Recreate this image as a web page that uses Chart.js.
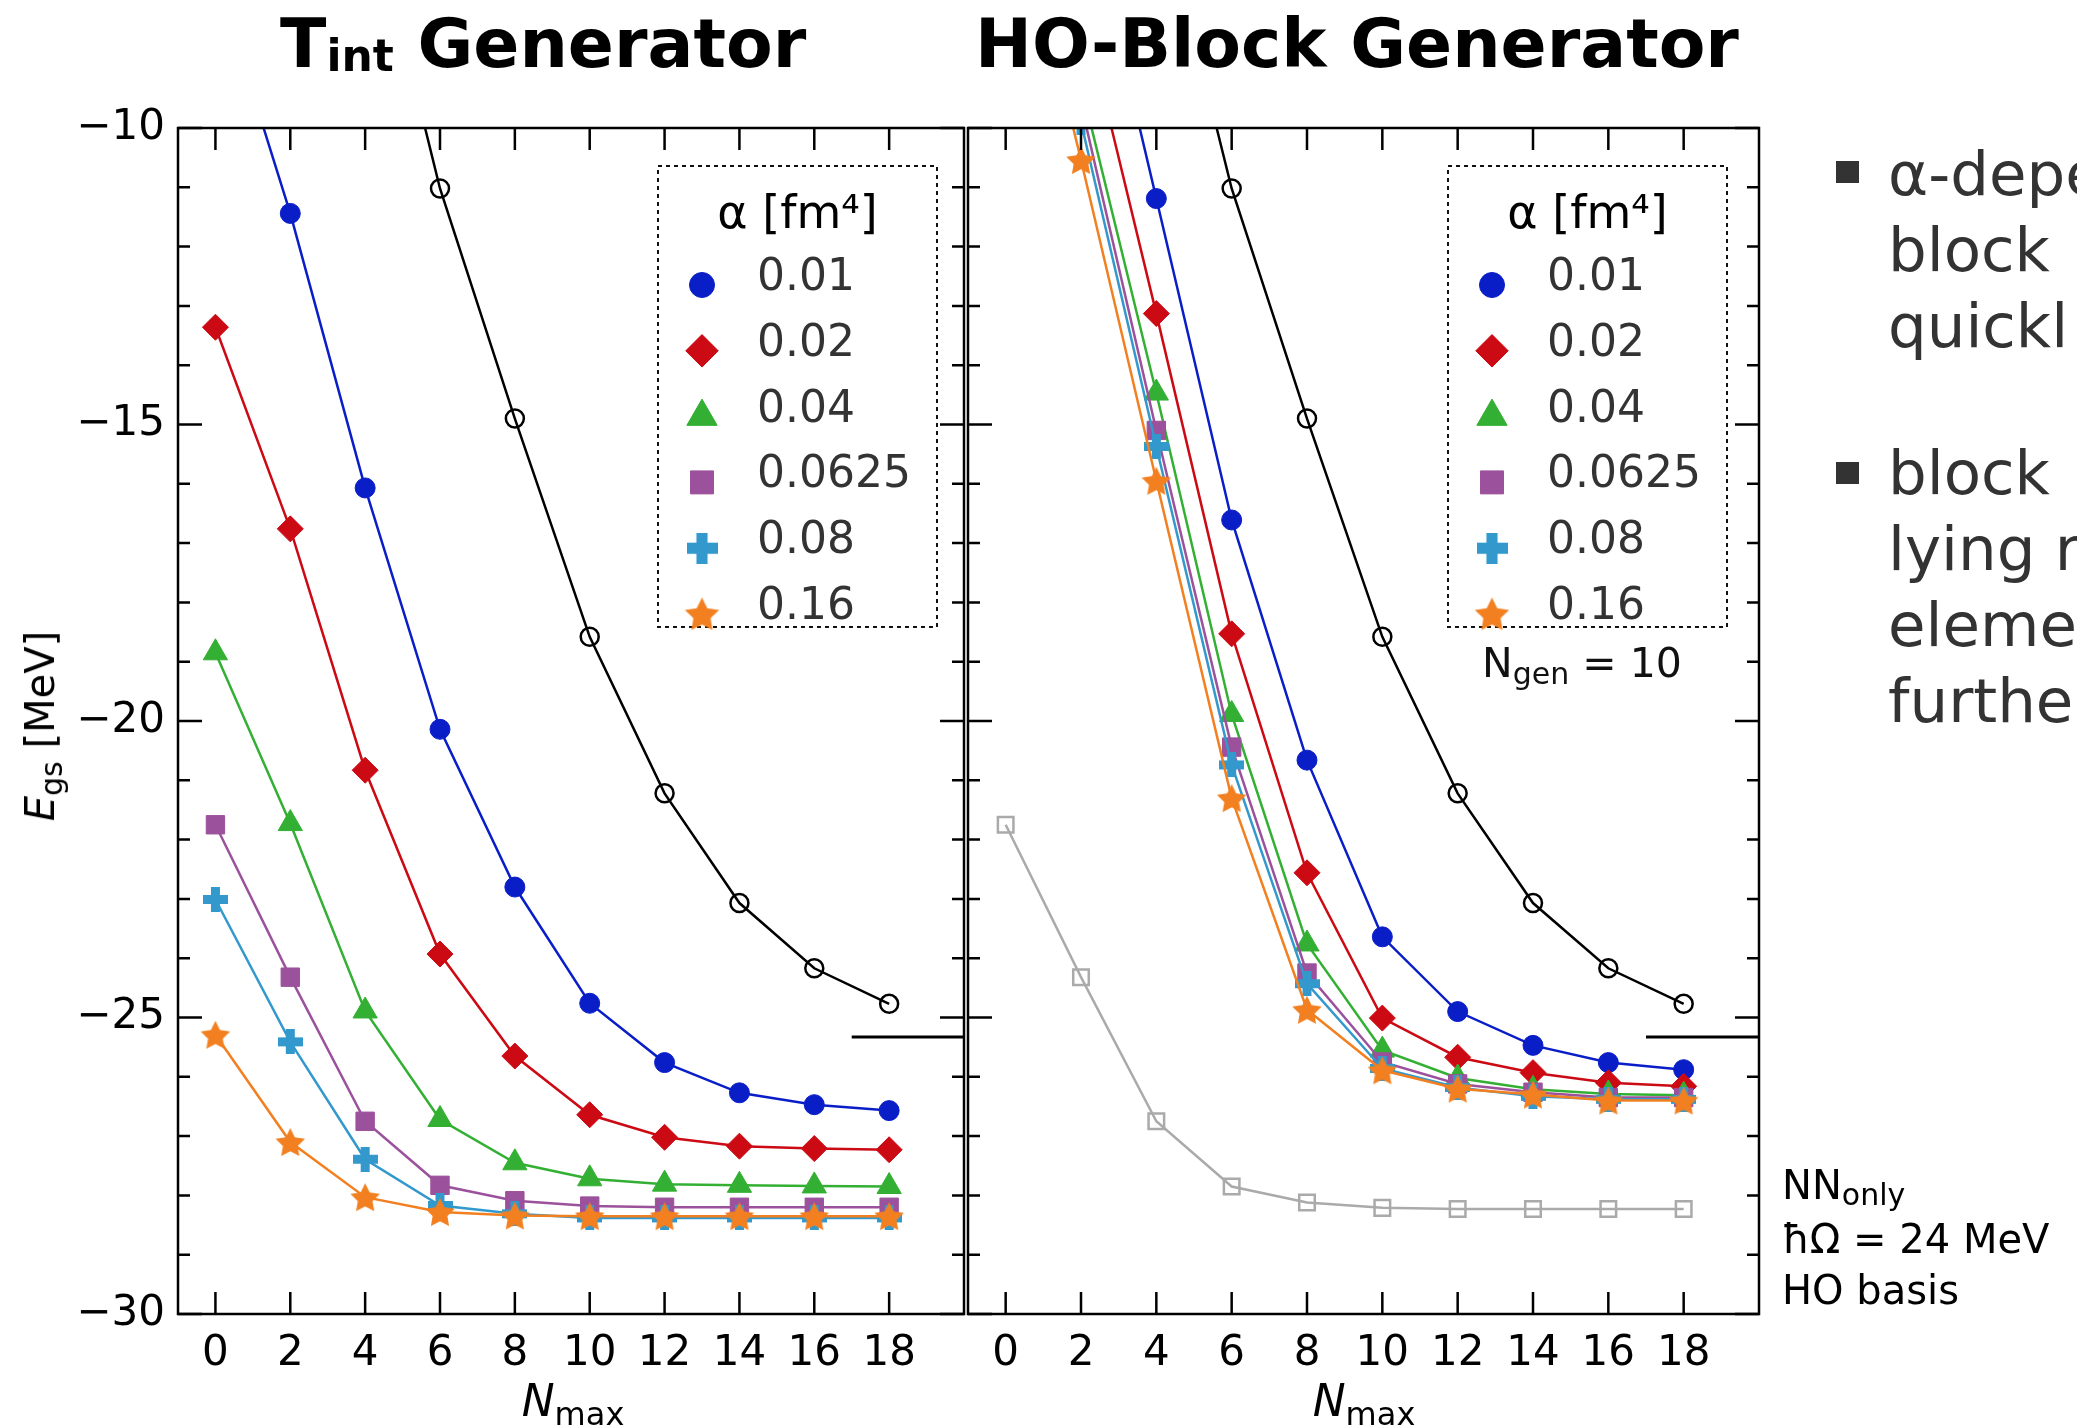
<!DOCTYPE html>
<html>
<head>
<meta charset="utf-8">
<script src="https://cdn.jsdelivr.net/npm/chart.js@4.4.1/dist/chart.umd.min.js"></script>
<style>
body { margin: 0; width: 2077px; height: 1427px; overflow: hidden; background: #fff; position: relative; font-family: 'DejaVu Sans', sans-serif; color: #000; }
canvas { position: absolute; top: 0; }
.abs { position: absolute; white-space: nowrap; }
.title { font-size: 68px; font-weight: bold; line-height: 68px; }
.tsub { font-size: 44px; position: relative; top: 4px; }
.xlab { font-size: 44px; line-height: 44px; transform: translateX(-50%); }
.xlab span { font-size: 32px; position: relative; top: 9px; }
.slide { font-size: 61px; line-height: 76px; color: #333; }
.bullet { position: absolute; width: 23px; height: 22px; background: #333; }
</style>
</head>
<body>
<canvas id="leftChart" width="980" height="1427" style="left:0"></canvas>
<canvas id="rightChart" width="860" height="1427" style="left:930px"></canvas>

<div class="abs title" style="left:280px; top:10px;">T<span class="tsub">int</span> Generator</div>
<div class="abs title" style="left:975px; top:10px;">HO-Block Generator</div>

<div class="abs" style="left:42px; top:726px; transform: translate(-50%,-50%) rotate(-90deg); font-size:40px; line-height:40px;"><i>E</i><span style="font-size:30px; position:relative; top:8px;">gs</span> [MeV]</div>
<div class="abs xlab" style="left:573px; top:1379px;"><i>N</i><span>max</span></div>
<div class="abs xlab" style="left:1364px; top:1379px;"><i>N</i><span>max</span></div>

<div class="abs" style="left:1582px; top:643px; transform: translateX(-50%); font-size:41px; line-height:41px; color:#111;">N<span style="font-size:30px; position:relative; top:7px;">gen</span> = 10</div>

<div class="abs" style="left:1782px; top:1160px; font-size:40px; line-height:51px;">NN<span style="font-size:30px; position:relative; top:6px;">only</span><br>ħΩ = 24 MeV<br>HO basis</div>

<div class="bullet" style="left:1836px; top:161px;"></div>
<div class="abs slide" style="left:1888px; top:136px;">α-depe<br>block<br>quickl</div>
<div class="bullet" style="left:1836px; top:462px;"></div>
<div class="abs slide" style="left:1888px; top:435px;">block<br>lying r<br>eleme<br>furthe</div>

<script>
const nmax = [0, 2, 4, 6, 8, 10, 12, 14, 16, 18];
const alphaLabels = ['0.01', '0.02', '0.04', '0.0625', '0.08', '0.16'];
const yTicks = [-30, -25, -20, -15, -10];

// bare interaction, open black circles (same in both panels)
const bareE = [null, null, -5.9, -11.02, -14.90, -18.58, -21.22, -23.07, -24.17, -24.77];

// Tint generator
const tint001 = [-7.4, -11.44, -16.07, -20.14, -22.80, -24.76, -25.76, -26.27, -26.47, -26.57];
const tint002 = [-13.36, -16.76, -20.83, -23.93, -25.65, -26.64, -27.02, -27.17, -27.21, -27.23];
const tint004 = [-18.85, -21.73, -24.89, -26.72, -27.45, -27.72, -27.81, -27.83, -27.84, -27.85];
const tint0625 = [-21.75, -24.32, -26.75, -27.83, -28.09, -28.18, -28.20, -28.20, -28.20, -28.20];
const tint008 = [-23.01, -25.41, -27.39, -28.17, -28.31, -28.38, -28.38, -28.38, -28.38, -28.38];
const tint016 = [-25.29, -27.10, -28.03, -28.28, -28.34, -28.35, -28.35, -28.35, -28.35, -28.35];

// HO-block generator
const ho001 = [null, -5.8, -11.19, -16.61, -20.66, -23.64, -24.90, -25.47, -25.76, -25.88];
const ho002 = [null, -7.87, -13.13, -18.53, -22.56, -25.01, -25.67, -25.93, -26.10, -26.16];
const ho004 = [null, -9.27, -14.47, -19.89, -23.76, -25.55, -26.02, -26.21, -26.29, -26.31];
const ho0625 = [null, -9.59, -15.10, -20.44, -24.25, -25.75, -26.12, -26.26, -26.35, -26.35];
const ho008 = [null, -9.9, -15.37, -20.74, -24.43, -25.86, -26.18, -26.33, -26.38, -26.38];
const ho016 = [-5.3, -10.54, -15.95, -21.30, -24.87, -25.89, -26.20, -26.30, -26.40, -26.40];

// NN only, grey open squares (right panel)
const nnOnlyE = [-21.75, -24.32, -26.75, -27.85, -28.12, -28.21, -28.23, -28.23, -28.23, -28.23];

// reference value, short black line on the right
const refNmax = [17, 20];
const refE = [-25.33, -25.33];

Chart.defaults.font.family = "'DejaVu Sans', sans-serif";
Chart.defaults.color = '#000';

function makeStar(color, size) {
    const c = document.createElement('canvas');
    c.width = size; c.height = size;
    const g = c.getContext('2d');
    const R = size / 2 - 0.5, r = R * 0.5, cx = size / 2, cy = size / 2 + 1.5;
    g.beginPath();
    for (let i = 0; i < 10; i++) {
        const rad = (i % 2 === 0 ? R : r);
        const ang = -Math.PI / 2 + i * Math.PI / 5;
        g.lineTo(cx + rad * Math.cos(ang), cy + rad * Math.sin(ang));
    }
    g.closePath();
    g.fillStyle = color;
    g.fill();
    return c;
}

function makePlus(color, size) {
    const c = document.createElement('canvas');
    c.width = size; c.height = size;
    const g = c.getContext('2d');
    const t = size * 0.36;
    g.fillStyle = color;
    g.fillRect((size - t) / 2, 0, t, size);
    g.fillRect(0, (size - t) / 2, size, t);
    return c;
}

const colors = {
    '0.01': '#0a1ec8', '0.02': '#cc0a14', '0.04': '#33b033',
    '0.0625': '#9b519b', '0.08': '#3399cc', '0.16': '#f28020'
};
const markers = {
    '0.01': { pointStyle: 'circle', radius: 10 },
    '0.02': { pointStyle: 'rectRot', radius: 13 },
    '0.04': { pointStyle: 'triangle', radius: 14 },
    '0.0625': { pointStyle: 'rect', radius: 13 },
    '0.08': { pointStyle: makePlus(colors['0.08'], 25), radius: 12, legendImg: makePlus(colors['0.08'], 31) },
    '0.16': { pointStyle: makeStar(colors['0.16'], 32), radius: 15, legendImg: makeStar(colors['0.16'], 37) }
};
const drawOrder = { '0.16': 1, '0.08': 2, '0.0625': 3, '0.04': 4, '0.02': 5, '0.01': 6 };

function toPoints(xs, ys) {
    return xs.map((x, i) => ({ x: x, y: ys[i] }));
}

function alphaDataset(label, values) {
    const m = markers[label];
    return {
        label: label,
        data: toPoints(nmax, values),
        borderColor: colors[label],
        borderWidth: 2.5,
        pointStyle: m.pointStyle,
        pointRadius: m.radius,
        pointBackgroundColor: colors[label],
        pointBorderColor: colors[label],
        pointBorderWidth: 1,
        legendImg: m.legendImg,
        order: drawOrder[label],
        clip: 0
    };
}

function bareDataset() {
    return {
        label: 'bare', data: toPoints(nmax, bareE),
        borderColor: '#000', borderWidth: 2.5,
        pointStyle: 'circle', pointRadius: 9,
        pointBackgroundColor: 'rgba(0,0,0,0)', pointBorderColor: '#000', pointBorderWidth: 2.5,
        order: 7, clip: 0
    };
}

function refDataset() {
    return {
        label: 'ref', data: toPoints(refNmax, refE),
        borderColor: '#000', borderWidth: 3, pointRadius: 0, order: 9, clip: 0
    };
}

const frameTicks = {
    id: 'frameTicks',
    afterDatasetsDraw(chart) {
        const ctx = chart.ctx, a = chart.chartArea;
        const xs = chart.scales.x, ys = chart.scales.y;
        ctx.save();
        ctx.strokeStyle = '#000';
        ctx.lineWidth = 2.5;
        ctx.beginPath();
        nmax.forEach(v => {
            const px = xs.getPixelForValue(v);
            ctx.moveTo(px, a.bottom); ctx.lineTo(px, a.bottom - 22);
            ctx.moveTo(px, a.top); ctx.lineTo(px, a.top + 22);
        });
        for (let v = ys.min; v <= ys.max; v++) {
            const py = ys.getPixelForValue(v);
            const len = (v % 5 === 0) ? 24 : 12;
            ctx.moveTo(a.left, py); ctx.lineTo(a.left + len, py);
            ctx.moveTo(a.right, py); ctx.lineTo(a.right - len, py);
        }
        ctx.stroke();
        ctx.strokeRect(a.left, a.top, a.right - a.left, a.bottom - a.top);
        ctx.restore();
    }
};

const alphaLegend = {
    id: 'alphaLegend',
    afterDraw(chart) {
        const ctx = chart.ctx, a = chart.chartArea;
        const bx = a.left + 480, by = a.top + 38, bw = 279, bh = 461;
        ctx.save();
        ctx.fillStyle = '#fff';
        ctx.fillRect(bx, by, bw, bh);
        ctx.setLineDash([4, 4]);
        ctx.lineWidth = 2;
        ctx.strokeStyle = '#111';
        ctx.strokeRect(bx, by, bw, bh);
        ctx.setLineDash([]);
        ctx.fillStyle = '#000';
        ctx.font = "46px 'DejaVu Sans'";
        ctx.textAlign = 'center';
        ctx.textBaseline = 'alphabetic';
        ctx.fillText('α [fm⁴]', bx + bw / 2, by + 62);
        ctx.font = "44px 'DejaVu Sans'";
        ctx.textAlign = 'left';
        alphaLabels.forEach((lab, i) => {
            const ds = chart.data.datasets.find(d => d.label === lab);
            if (!ds) return;
            const base = by + 124 + i * 65.8;
            const mx = bx + 44, my = base - 5;
            if (ds.legendImg) {
                const img = ds.legendImg;
                ctx.drawImage(img, mx - img.width / 2, my - img.height / 2);
            } else {
                ctx.fillStyle = ds.pointBackgroundColor;
                ctx.strokeStyle = ds.pointBorderColor;
                ctx.lineWidth = 1;
                Chart.helpers.drawPoint(ctx, { pointStyle: ds.pointStyle, radius: ds.pointRadius * 1.25, borderWidth: 1, rotation: 0 }, mx, my);
            }
            ctx.fillStyle = '#333';
            ctx.fillText(lab, bx + 99, base);
        });
        ctx.restore();
    }
};

function makeChart(id, datasets, showY, padding) {
    return new Chart(document.getElementById(id), {
        type: 'scatter',
        data: { datasets: datasets },
        options: {
            responsive: false,
            devicePixelRatio: 1,
            animation: false,
            events: [],
            showLine: true,
            layout: { padding: padding },
            plugins: { legend: { display: false }, tooltip: { enabled: false } },
            scales: {
                x: {
                    type: 'linear', min: -1, max: 20,
                    grid: { display: false, drawTicks: false },
                    border: { display: false },
                    afterBuildTicks: s => { s.ticks = nmax.map(v => ({ value: v })); },
                    afterFit: s => { s.height = 60; },
                    ticks: { font: { size: 42 }, color: '#000', padding: 15, maxRotation: 0, autoSkip: false }
                },
                y: {
                    type: 'linear', min: -30, max: -10,
                    display: showY,
                    grid: { display: false, drawTicks: false },
                    border: { display: false },
                    afterBuildTicks: s => { s.ticks = yTicks.map(v => ({ value: v })); },
                    afterFit: s => { s.width = showY ? 178 : 0; },
                    ticks: { font: { size: 42 }, color: '#000', padding: 13, callback: v => '\u2212' + Math.abs(v) }
                }
            }
        },
        plugins: [frameTicks, alphaLegend]
    });
}

makeChart('leftChart', [
    bareDataset(),
    alphaDataset('0.01', tint001),
    alphaDataset('0.02', tint002),
    alphaDataset('0.04', tint004),
    alphaDataset('0.0625', tint0625),
    alphaDataset('0.08', tint008),
    alphaDataset('0.16', tint016),
    refDataset()
], true, { top: 128, right: 12, bottom: 53, left: 0 });

makeChart('rightChart', [
    bareDataset(),
    alphaDataset('0.01', ho001),
    alphaDataset('0.02', ho002),
    alphaDataset('0.04', ho004),
    alphaDataset('0.0625', ho0625),
    alphaDataset('0.08', ho008),
    alphaDataset('0.16', ho016),
    {
        label: 'NN only', data: toPoints(nmax, nnOnlyE),
        borderColor: '#aaaaaa', borderWidth: 2.5,
        pointStyle: 'rect', pointRadius: 11,
        pointBackgroundColor: 'rgba(0,0,0,0)', pointBorderColor: '#aaaaaa', pointBorderWidth: 2.5,
        order: 8, clip: 0
    },
    refDataset()
], false, { top: 128, right: 31, bottom: 53, left: 38 });
</script>
</body>
</html>
